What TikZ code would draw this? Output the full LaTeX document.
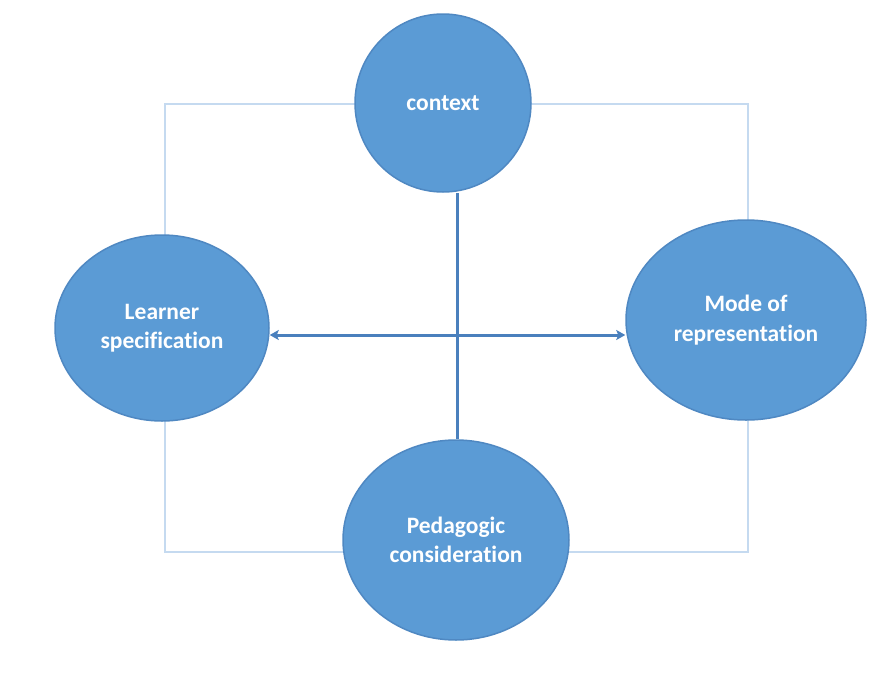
\documentclass[tikz,border=0pt]{standalone}
\usepackage{fontspec}
\setmainfont[Ligatures=NoCommon]{Carlito}
\usetikzlibrary{arrows.meta,shapes.geometric}
\definecolor{bubble}{HTML}{5B9BD5}
\definecolor{bubbleedge}{HTML}{4F88C2}
\definecolor{frameblue}{HTML}{C5DAF0}
\definecolor{linkblue}{HTML}{4A80BD}
\tikzset{
  bubblenode/.style={ellipse, draw=bubbleedge, line width=1.5pt, fill=bubble,
    text=white, font=\fontsize{23.5}{29.5}\selectfont\bfseries, align=center,
    inner sep=0pt},
  framebox/.style={draw=frameblue, line width=2.2pt},
  link/.style={draw=linkblue, line width=3pt},
}
\begin{document}
\begin{tikzpicture}[x=1pt,y=-1pt]
\useasboundingbox (0,0) rectangle (892,675);
\coordinate (tl) at (165,104);
\coordinate (br) at (748,552);
\draw[framebox] (tl) rectangle (br);
\node[bubblenode, minimum width=176pt, minimum height=178pt] (ctx) at (443,103) {context};
\node[bubblenode, minimum width=214pt, minimum height=186pt] (lrn) at (162,328) {Learner\\specification};
\node[bubblenode, minimum width=240pt, minimum height=200pt] (mode) at (746,320) {Mode of\\representation};
\node[bubblenode, minimum width=226pt, minimum height=200pt] (ped) at (456,540) {Pedagogic\\consideration};
\draw[link] (ctx.south -| 457,0) -- (ped.north -| 457,0);
\draw[link, {Stealth[length=9pt,width=10pt,inset=2pt]}-{Stealth[length=9pt,width=10pt,inset=2pt]}] (lrn.east |- 0,335) -- (mode.west |- 0,335);
\end{tikzpicture}
\end{document}
